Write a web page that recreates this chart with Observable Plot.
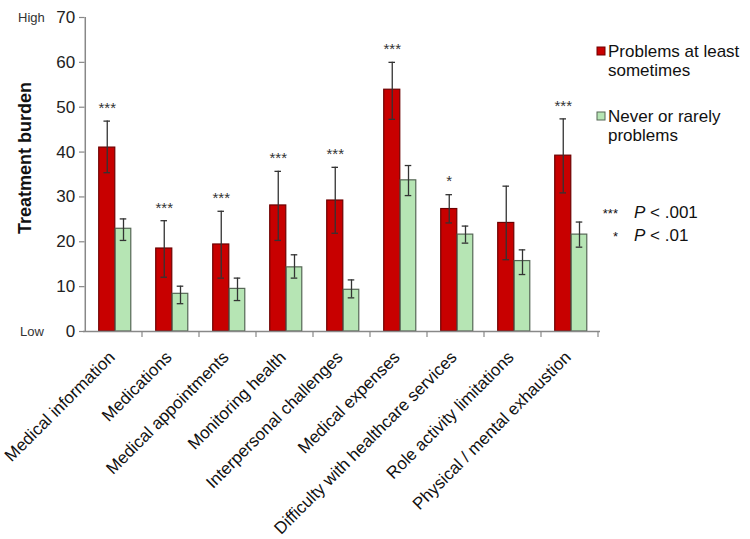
<!DOCTYPE html>
<html>
<head>
<meta charset="utf-8">
<script src="https://cdn.jsdelivr.net/npm/d3@7"></script>
<script src="https://cdn.jsdelivr.net/npm/@observablehq/plot@0.6"></script>
<style>
  html, body { margin: 0; padding: 0; background: #fff; }
  #chart svg { display: block; }
</style>
</head>
<body>
<div id="chart"></div>
<script>
// ---- Data ----
const categories = [
  "Medical information", "Medications", "Medical appointments", "Monitoring health",
  "Interpersonal challenges", "Medical expenses", "Difficulty with healthcare services",
  "Role activity limitations", "Physical / mental exhaustion"
];
const seriesNames = ["Problems at least sometimes", "Never or rarely problems"];
const problemsMean = [41.0, 18.5, 19.4, 28.1, 29.2, 53.9, 27.3, 24.2, 39.2];
const problemsLow  = [35.4, 12.1, 11.9, 20.3, 21.9, 47.3, 24.2, 16.0, 30.9];
const problemsHigh = [46.9, 24.7, 26.8, 35.7, 36.6, 60.0, 30.5, 32.4, 47.4];
const neverMean = [22.9, 8.4, 9.5, 14.3, 9.3, 33.7, 21.6, 15.7, 21.6];
const neverLow  = [20.3, 6.2, 6.9, 11.9, 7.5, 30.3, 19.7, 12.7, 18.8];
const neverHigh = [25.1, 10.1, 11.9, 17.1, 11.5, 37.0, 23.5, 18.2, 24.4];
const significance = ["***", "***", "***", "***", "***", "***", "*", "", "***"];
const yTicks = [0, 10, 20, 30, 40, 50, 60, 70];
const sigLegend = [["***", "P", " < .001"], ["*", "P", " < .01"]];

const redFill = "#c80000", redStroke = "#6e0000";
const greenFill = "#b6e5b4", greenStroke = "#556655";

const rowsP = categories.map((c, i) => ({cat: c, v: problemsMean[i], lo: problemsLow[i], hi: problemsHigh[i], sig: significance[i]}));
const rowsN = categories.map((c, i) => ({cat: c, v: neverMean[i], lo: neverLow[i], hi: neverHigh[i]}));

// ---- Layout ----
const W = 750, H = 539;
const mL = 83, mR = 150, mT = 17, mB = 208;
const band = (W - mL - mR) / categories.length;
const half = band / 2;
const rL = half - 15, rR = half - 1.5;
const gL = half + 1.5, gR = half - 17.5;
const rC = -6.75, gC = 9.5;
const capHalf = 3.5;
const font = "Arial, 'Liberation Sans', sans-serif";

const plot = Plot.plot({
  width: W, height: H,
  marginLeft: mL, marginRight: mR, marginTop: mT, marginBottom: mB,
  style: {fontFamily: font, background: "#fff"},
  x: {type: "band", domain: categories, padding: 0, axis: null},
  y: {domain: [0, 70], axis: null},
  marks: [
    Plot.barY(rowsP, {x: "cat", y: "v", fill: redFill, stroke: redStroke, strokeWidth: 1.2, insetLeft: rL, insetRight: rR}),
    Plot.barY(rowsN, {x: "cat", y: "v", fill: greenFill, stroke: greenStroke, strokeWidth: 1.2, insetLeft: gL, insetRight: gR}),
    Plot.ruleX(rowsP, {x: "cat", y1: "lo", y2: "hi", dx: rC, stroke: "#333", strokeWidth: 1.3}),
    Plot.tickY(rowsP, {x: "cat", y: "hi", stroke: "#333", strokeWidth: 1.3, insetLeft: half + rC - capHalf, insetRight: half - rC - capHalf}),
    Plot.tickY(rowsP, {x: "cat", y: "lo", stroke: "#333", strokeWidth: 1.3, insetLeft: half + rC - capHalf, insetRight: half - rC - capHalf}),
    Plot.ruleX(rowsN, {x: "cat", y1: "lo", y2: "hi", dx: gC, stroke: "#333", strokeWidth: 1.3}),
    Plot.tickY(rowsN, {x: "cat", y: "hi", stroke: "#333", strokeWidth: 1.3, insetLeft: half + gC - capHalf, insetRight: half - gC - capHalf}),
    Plot.tickY(rowsN, {x: "cat", y: "lo", stroke: "#333", strokeWidth: 1.3, insetLeft: half + gC - capHalf, insetRight: half - gC - capHalf}),
    Plot.text(rowsP, {x: "cat", y: "hi", text: "sig", dx: rC, dy: -13, fontSize: 15, fill: "#333", lineAnchor: "middle"}),
    Plot.ruleY([0], {stroke: "#888", strokeWidth: 1.5}),
    Plot.ruleX([0], {x: () => categories[0], dx: -half, y1: 0, y2: 70, stroke: "#888", strokeWidth: 1.5}),
    Plot.tickY(yTicks, {y: d => d, x: () => categories[0], insetLeft: -6, insetRight: band, stroke: "#888", strokeWidth: 1.2}),
    Plot.text(yTicks, {y: d => d, x: () => categories[0], text: d => String(d), dx: -half - 10, textAnchor: "end", fontSize: 17, fill: "#222"}),
    Plot.text(categories, {x: d => d, y: () => 0, text: d => d, rotate: -45, textAnchor: "end", lineAnchor: "middle", dx: -2, dy: 23, fontSize: 17, fill: "#111"})
  ]
});

document.getElementById("chart").appendChild(plot);

const svg = d3.select(plot);
const ys = plot.scale("y");
const xs = plot.scale("x");
const y0 = ys.apply(0), y70 = ys.apply(70);

const g = svg.append("g");
categories.forEach(c => {
  const xr = xs.apply(c) + xs.bandwidth;
  g.append("line").attr("x1", xr).attr("x2", xr).attr("y1", y0).attr("y2", y0 + 6).attr("stroke", "#888").attr("stroke-width", 1.2);
});

const deco = svg.append("g").attr("font-family", font).attr("text-anchor", "start");
deco.append("text").attr("x", 18).attr("y", y70).attr("dy", "0.35em").attr("font-size", 13).attr("fill", "#333").text("High");
deco.append("text").attr("x", 20).attr("y", y0).attr("dy", "0.35em").attr("font-size", 13).attr("fill", "#333").text("Low");

deco.append("text").attr("transform", `translate(31,${(y0 + y70) / 2 - 16}) rotate(-90)`)
  .attr("text-anchor", "middle").attr("font-size", 18).attr("font-weight", "bold").attr("fill", "#111")
  .text("Treatment burden");

// legend
const leg = svg.append("g").attr("font-family", font).attr("font-size", 17).attr("fill", "#111").attr("text-anchor", "start");
const legItems = [
  {fill: redFill, stroke: redStroke, lines: ["Problems at least", "sometimes"], y: 51},
  {fill: greenFill, stroke: greenStroke, lines: ["Never or rarely", "problems"], y: 116}
];
legItems.forEach(it => {
  leg.append("rect").attr("x", 597).attr("y", it.y - 4).attr("width", 8).attr("height", 8).attr("fill", it.fill).attr("stroke", it.stroke);
  it.lines.forEach((t, j) => {
    leg.append("text").attr("x", 608).attr("y", it.y + j * 19).attr("dy", "0.35em").text(t);
  });
});

// significance legend
const sig = svg.append("g").attr("font-family", font).attr("font-size", 17).attr("fill", "#111").attr("text-anchor", "start");
sigLegend.forEach((s, i) => {
  const yy = 218 + i * 23;
  sig.append("text").attr("x", 618).attr("y", yy).attr("text-anchor", "end").attr("font-size", 13).text(s[0]);
  const t = sig.append("text").attr("x", 634).attr("y", yy);
  t.append("tspan").attr("font-style", "italic").text(s[1]);
  t.append("tspan").text(s[2]);
});
</script>
</body>
</html>
